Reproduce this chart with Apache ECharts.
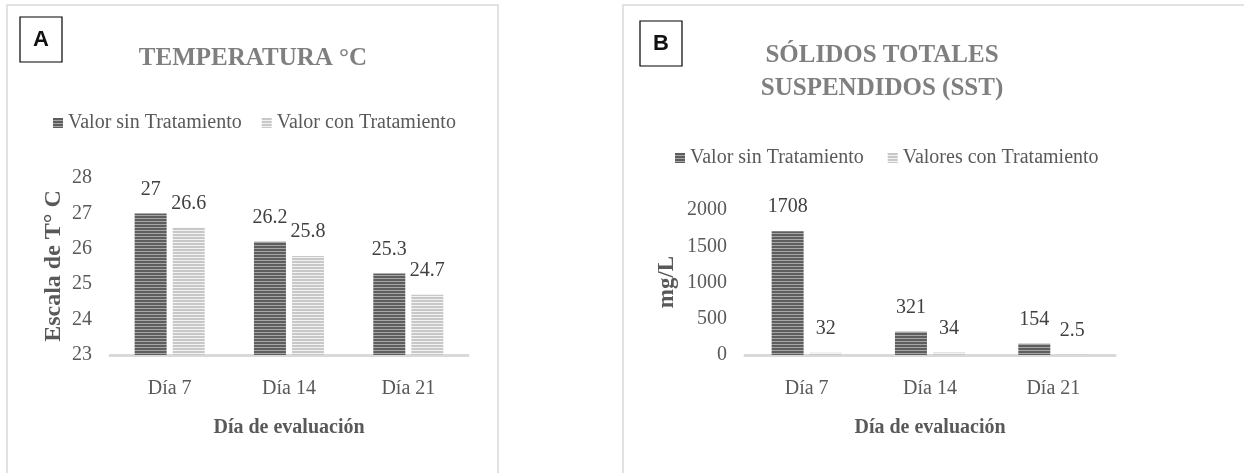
<!DOCTYPE html>
<html>
<head>
<meta charset="utf-8">
<script src="https://cdn.jsdelivr.net/npm/echarts@6/dist/echarts.min.js"></script>
<style>
  body { margin: 0; background: #fff; }
  #chartA { position: absolute; left: 0; top: 0; width: 620px; height: 473px; }
  #chartB { position: absolute; left: 620px; top: 0; width: 624px; height: 473px; }
</style>
</head>
<body>
<div id="chartA"></div>
<div id="chartB"></div>
<script>
// categories and values
var dias = ['Día 7', 'Día 14', 'Día 21'];
var tempSin = [27, 26.2, 25.3];
var tempCon = [26.6, 25.8, 24.7];
var sstSin = [1708, 321, 154];
var sstCon = [32, 34, 2.5];

var serif = 'Liberation Serif';

// striped fill like the excel pattern
function stripes(c1, c2) {
    var cv = document.createElement('canvas');
    cv.width = 4; cv.height = 3;
    var ctx = cv.getContext('2d');
    ctx.fillStyle = c2;
    ctx.fillRect(0, 0, 4, 3);
    ctx.fillStyle = c1;
    ctx.fillRect(0, 0, 4, 2);
    return { image: cv, repeat: 'repeat' };
}
var darkFill = stripes('#5e5e5e', '#a6a6a6');
var lightFill = stripes('#c8c8c8', '#f2f2f2');

function barSeries(name, data) {
    return {
        name: name,
        type: 'bar',
        data: data,
        barWidth: 32,
        barGap: '19%',
        itemStyle: { color: name.indexOf('sin') > 0 ? darkFill : lightFill },
        label: {
            show: true,
            position: 'top',
            distance: 14,
            color: '#404040',
            fontFamily: serif,
            fontSize: 20
        }
    };
}

// frame, letter box and the rotated y-axis title
function panelDeco(letter, bx, by, frameX, yName, nx, ny, nsize) {
    return [
        {
            type: 'rect',
            shape: { x: frameX, y: 5, width: frameX < 5 ? 700 : 491, height: 520 },
            style: { fill: 'none', stroke: '#d9d9d9', lineWidth: 1.5 },
            silent: true
        },
        {
            type: 'rect',
            shape: { x: bx, y: by, width: 42, height: 45 },
            style: { fill: '#fff', stroke: '#000', lineWidth: 1.2 },
            z: 10
        },
        {
            type: 'text',
            x: bx + 21, y: by + 23,
            style: {
                text: letter, fill: '#111', font: 'bold 22px "Liberation Sans"',
                align: 'center', verticalAlign: 'middle'
            },
            z: 11
        },
        {
            type: 'text',
            x: nx, y: ny,
            rotation: Math.PI / 2,
            style: {
                text: yName, fill: '#595959', font: 'bold ' + nsize + 'px "Liberation Serif"',
                align: 'center', verticalAlign: 'middle'
            }
        }
    ];
}

function makeOption(o) {
    return {
        animation: false,
        graphic: o.deco,
        title: {
            text: o.title,
            left: o.titleX,
            top: o.titleY,
            textAlign: 'center',
            textStyle: { fontFamily: serif, fontWeight: 'bold', fontSize: 25, lineHeight: 33, color: '#7f7f7f' }
        },
        legend: {
            left: o.legendX,
            top: o.legendY,
            icon: 'rect',
            itemWidth: 10,
            itemHeight: 10,
            itemGap: o.legendGap,
            textStyle: { fontFamily: serif, fontSize: 20, color: '#595959' },
            data: o.names
        },
        grid: o.grid,
        xAxis: {
            type: 'category',
            data: dias,
            axisLine: { lineStyle: { color: '#d9d9d9', width: 3 } },
            axisTick: { show: false },
            axisLabel: { fontFamily: serif, fontSize: 20, color: '#595959', margin: 24 },
            name: 'Día de evaluación',
            nameLocation: 'middle',
            nameGap: 63,
            nameTextStyle: { fontFamily: serif, fontSize: 20, fontWeight: 'bold', color: '#595959' }
        },
        yAxis: {
            type: 'value',
            min: o.yMin,
            max: o.yMax,
            interval: o.yStep,
            splitLine: { show: false },
            axisLabel: {
                fontFamily: serif, fontSize: 20, color: '#595959', margin: 18,
                formatter: function (v) { return String(v); }
            }
        },
        series: [
            barSeries(o.names[0], o.sin),
            barSeries(o.names[1], o.con)
        ]
    };
}

var chartA = echarts.init(document.getElementById('chartA'));
chartA.setOption(makeOption({
    deco: panelDeco('A', 20, 17, 7, 'Escala de T° C', 54, 266, 24),
    title: 'TEMPERATURA °C',
    titleX: 248, titleY: 37,
    legendX: 48, legendY: 108, legendGap: 20,
    names: ['Valor sin Tratamiento', 'Valor con Tratamiento'],
    grid: { left: 110, right: 152, top: 178, bottom: 118 },
    yMin: 23, yMax: 28, yStep: 1,
    sin: tempSin, con: tempCon
}));

var chartB = echarts.init(document.getElementById('chartB'));
chartB.setOption(makeOption({
    deco: panelDeco('B', 20, 21, 3, 'mg/L', 47, 282, 23),
    title: 'SÓLIDOS TOTALES\nSUSPENDIDOS (SST)',
    titleX: 257, titleY: 34,
    legendX: 50, legendY: 143, legendGap: 24,
    names: ['Valor sin Tratamiento', 'Valores con Tratamiento'],
    grid: { left: 125, right: 129, top: 210, bottom: 118 },
    yMin: 0, yMax: 2000, yStep: 500,
    sin: sstSin, con: sstCon
}));
</script>
</body>
</html>
